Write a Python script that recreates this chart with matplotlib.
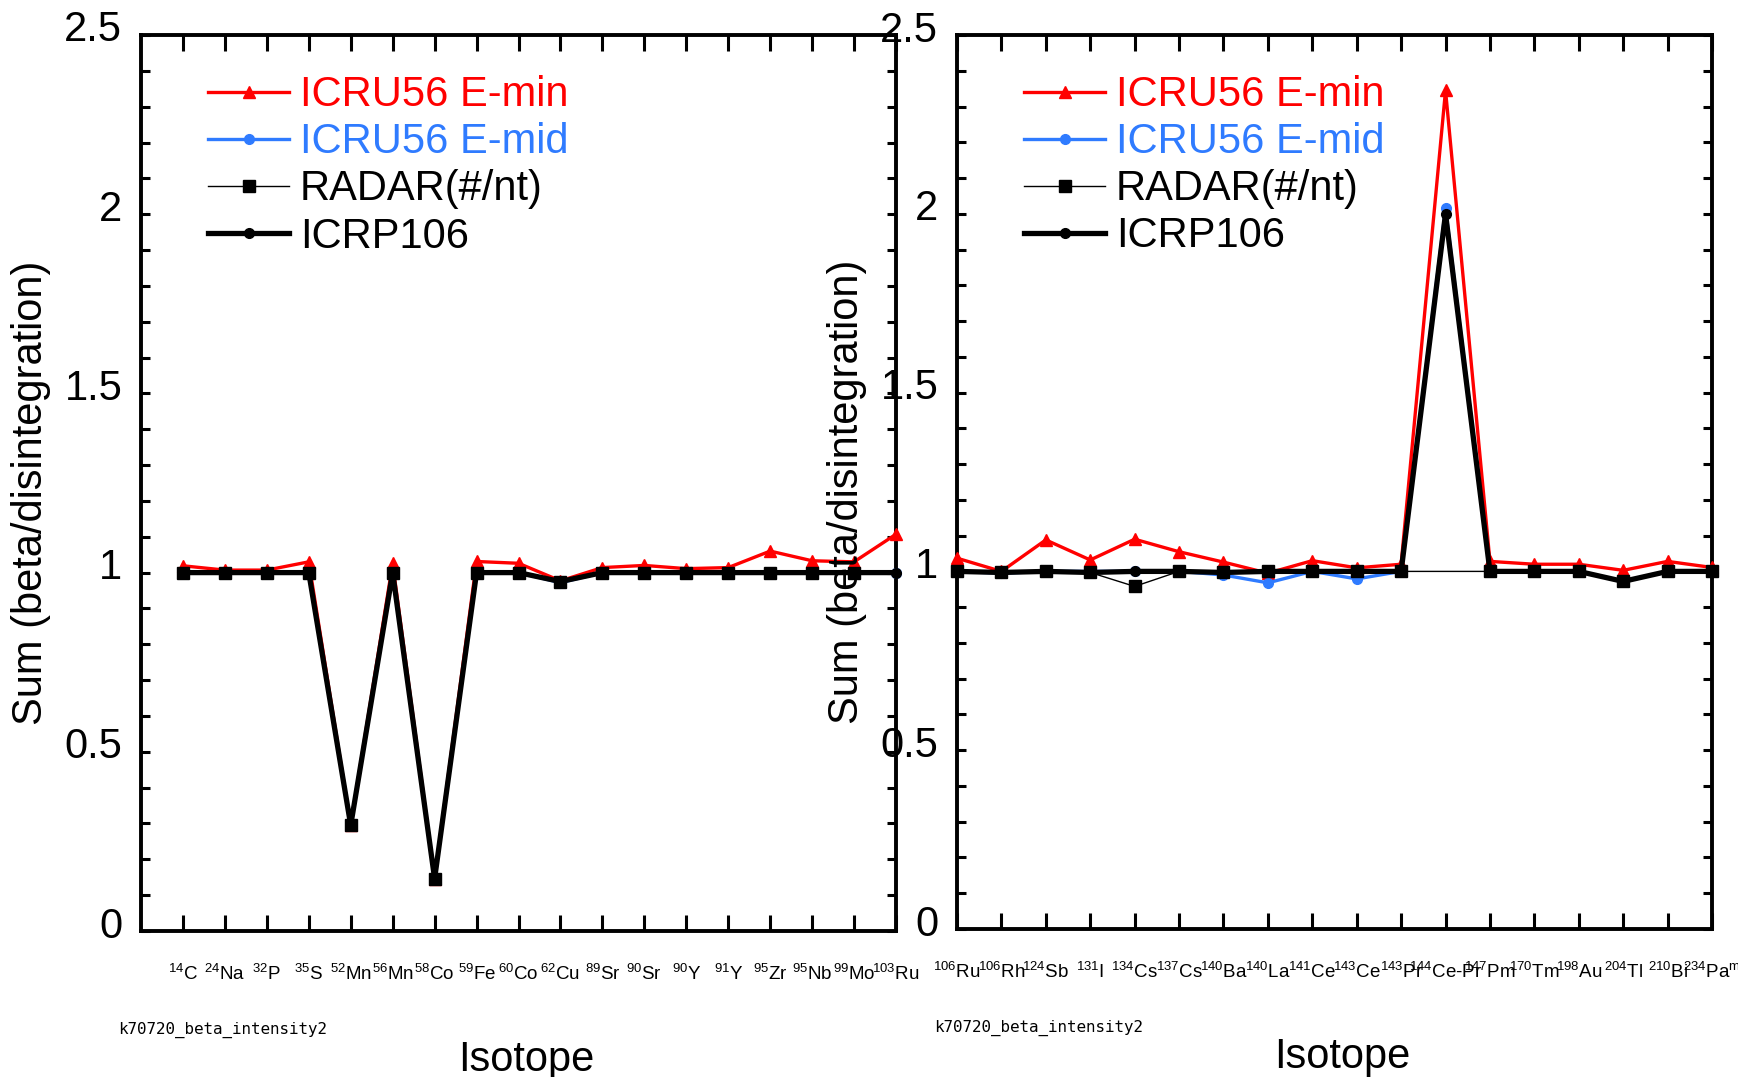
import numpy as np
import matplotlib
matplotlib.use("Agg")
import matplotlib.pyplot as plt
from matplotlib.ticker import MultipleLocator, FormatStrFormatter
from matplotlib.transforms import ScaledTranslation

plt.rcParams['font.family'] = ['Liberation Sans', 'DejaVu Sans']
plt.rcParams['mathtext.default'] = 'regular'

nan = np.nan

# ---- data: sum of beta emissions per disintegration ----
iso_left = [r'$^{14}$C', r'$^{24}$Na', r'$^{32}$P', r'$^{35}$S', r'$^{52}$Mn', r'$^{56}$Mn',
            r'$^{58}$Co', r'$^{59}$Fe', r'$^{60}$Co', r'$^{62}$Cu', r'$^{89}$Sr', r'$^{90}$Sr',
            r'$^{90}$Y', r'$^{91}$Y', r'$^{95}$Zr', r'$^{95}$Nb', r'$^{99}$Mo', r'$^{103}$Ru']
emin_left = [1.019, 1.007, 1.007, 1.030, 0.295, 1.026, 0.146, 1.031, 1.026, 0.977,
             1.014, 1.020, 1.011, 1.014, 1.060, 1.033, 1.030, 1.107]
emid_left = [1.0, 1.0, 1.0, 1.0, 0.295, 1.0, 0.146, 1.0, 1.0, 0.972,
             1.0, 1.0, 1.0, 1.0, 1.0, 1.0, 1.0, 1.0]
radar_left = [1.0, 1.0, 1.0, 1.0, 0.295, 1.0, 0.146, 1.0, 1.0, 0.975,
              1.0, 1.0, 1.0, 1.0, 1.0, 1.0, 1.0, nan]
icrp_left = [1.0, 1.0, 1.0, 1.0, 0.295, 1.0, 0.146, 1.0, 1.0, 0.975,
             1.0, 1.0, 1.0, 1.0, 1.0, 1.0, 1.0, 1.0]

iso_right = [r'$^{106}$Ru', r'$^{106}$Rh', r'$^{124}$Sb', r'$^{131}$I', r'$^{134}$Cs', r'$^{137}$Cs',
             r'$^{140}$Ba', r'$^{140}$La', r'$^{141}$Ce', r'$^{143}$Ce', r'$^{143}$Pr', r'$^{144}$Ce-Pr',
             r'$^{147}$Pm', r'$^{170}$Tm', r'$^{198}$Au', r'$^{204}$Tl', r'$^{210}$Bi', r'$^{234}$Pa$^{m}$']
emin_right = [1.037, 1.000, 1.088, 1.032, 1.090, 1.055, 1.026, 0.995, 1.030, 1.010,
              1.020, 2.345, 1.028, 1.020, 1.020, 1.003, 1.028, 1.011]
emid_right = [1.0, 0.995, 1.0, 1.0, 1.0, 1.0, 0.99, 0.968, 1.0, 0.979,
              1.0, 2.015, 1.0, 1.0, 1.0, 0.972, 1.0, 1.0]
radar_right = [1.0, 0.997, 1.0, 0.997, 0.958, 1.0, 0.997, 1.0, 1.0, 1.0,
               1.0, nan, 1.0, 1.0, 1.0, 0.972, 1.0, 1.0]
icrp_right = [1.0, 0.997, 1.0, 0.997, 1.0, 1.0, 0.997, 1.0, 1.0, 1.0,
              1.0, 2.0, 1.0, 1.0, 1.0, 0.972, 1.0, 1.0]

series_names = ['ICRU56 E-min', 'ICRU56 E-mid', 'RADAR(#/nt)', 'ICRP106']
series_colors = ['#ff0000', '#2f7bff', 'black', 'black']

fig = plt.figure(figsize=(17.38, 10.77), dpi=100)
W, H = 1738.0, 1077.0


def px_axes(x0, x1, ytop, ybot):
    return fig.add_axes([x0 / W, 1 - ybot / H, (x1 - x0) / W, (ybot - ytop) / H])


def draw_panel(ax, labels, emin, emid, radar, icrp, xlim):
    x = np.arange(1, len(labels) + 1)

    def connected(vals):
        v = np.asarray(vals, dtype=float)
        ok = ~np.isnan(v)
        return x[ok], v[ok]

    ax.plot(*connected(emin), color=series_colors[0], lw=2.4, marker='^', ms=8.5,
            label=series_names[0], clip_on=False, zorder=3)
    ax.plot(*connected(emid), color=series_colors[1], lw=2.4, marker='o', ms=7,
            label=series_names[1], clip_on=False, zorder=4)
    ax.plot(*connected(radar), color='black', lw=1.0, marker='s', ms=8.5,
            label=series_names[2], clip_on=False, zorder=5)
    ax.plot(*connected(icrp), color='black', lw=3.8, marker='o', ms=7,
            label=series_names[3], clip_on=False, zorder=6)

    ax.set_xlim(*xlim)
    ax.set_ylim(0, 2.5)
    ax.set_xticks(x)
    ax.set_xticklabels(labels, fontsize=13.5)
    ax.yaxis.set_major_locator(MultipleLocator(0.5))
    ax.yaxis.set_minor_locator(MultipleLocator(0.1))
    ax.yaxis.set_major_formatter(FormatStrFormatter('%g'))
    ax.tick_params(axis='x', which='major', direction='in', top=True, bottom=True,
                   length=11.5, width=2.2, pad=24)
    ax.tick_params(axis='y', which='major', direction='in', left=True, right=True,
                   length=6.5, width=2.2, pad=13.5, labelsize=30)
    ax.tick_params(axis='y', which='minor', direction='in', left=True, right=True,
                   length=6.5, width=2.2)
    for sp in ax.spines.values():
        sp.set_linewidth(2.8)
    shift = ScaledTranslation(0, 9 / 100.0, fig.dpi_scale_trans)
    for lab in ax.get_yticklabels():
        lab.set_transform(lab.get_transform() + shift)

    leg = ax.legend(loc='upper left', bbox_to_anchor=(0.089, 0.955), frameon=False,
                    fontsize=30, handlelength=1.95, handletextpad=0.25,
                    labelspacing=0.17, borderpad=0, borderaxespad=0, numpoints=1)
    for t, c in zip(leg.get_texts(), series_colors):
        t.set_color(c)

    ax.text(-0.146, 0.489, 'Sum (beta/disintegration)', transform=ax.transAxes,
            rotation=90, ha='center', va='center', fontsize=30, clip_on=False)
    ax.text(0.51, -0.156, 'Isotope', transform=ax.transAxes,
            ha='center', va='baseline', fontsize=30, clip_on=False)


ax1 = px_axes(141, 896, 35, 931)
draw_panel(ax1, iso_left, emin_left, emid_left, radar_left, icrp_left, (0, 18))

ax2 = px_axes(957, 1712, 35, 929)
draw_panel(ax2, iso_right, emin_right, emid_right, radar_right, icrp_right, (1, 18))

fig.text(118 / W, 1 - 1030 / H, 'k70720_beta_intensity2', family='DejaVu Sans Mono',
         fontsize=11.4, ha='left', va='center')
fig.text(934 / W, 1 - 1028 / H, 'k70720_beta_intensity2', family='DejaVu Sans Mono',
         fontsize=11.4, ha='left', va='center')

fig.savefig('out.png', dpi=100)
